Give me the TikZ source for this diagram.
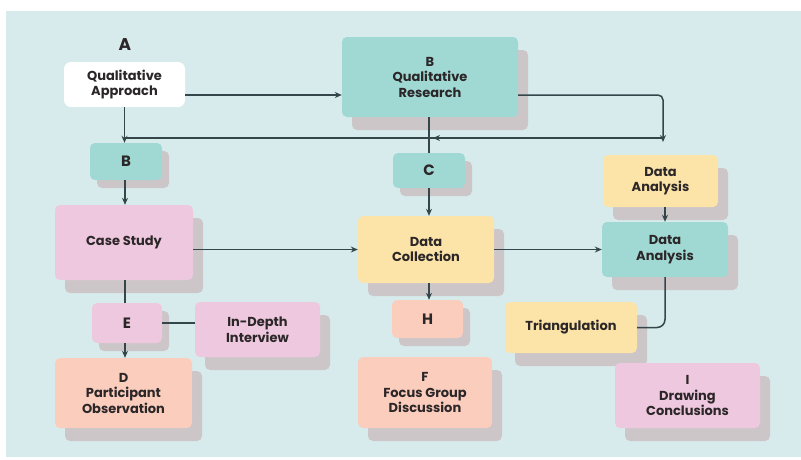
\documentclass[tikz,border=0pt]{standalone}
\usepackage{fontspec}
\setmainfont{Poppins}
\usetikzlibrary{arrows.meta,calc,shadows}
\definecolor{cBg}{HTML}{D7EBEC}
\definecolor{cTeal}{HTML}{A0D8D3}
\definecolor{cPink}{HTML}{EEC8DE}
\definecolor{cYel}{HTML}{FCE3A8}
\definecolor{cPeach}{HTML}{FACDBD}
\definecolor{cShd}{HTML}{CCC6C9}
\definecolor{cTxt}{HTML}{2B2627}
\definecolor{cLine}{HTML}{34464A}
\tikzset{
  box/.style={rectangle, rounded corners=5pt, align=center, text=cTxt,
    font=\bfseries\fontsize{13}{15.5}\selectfont, inner sep=0pt},
  bigshd/.style={general shadow={fill=cShd, shadow xshift=10pt, shadow yshift=-13pt}},
  smallshd/.style={general shadow={fill=cShd, shadow xshift=7pt, shadow yshift=-8pt}},
  letter/.style={font=\bfseries\fontsize{15}{15}\selectfont},
  ln/.style={draw=cLine, line width=1.5pt},
  arr/.style={ln, -{Stealth[length=7pt,width=6pt]}}
}
\begin{document}
\begin{tikzpicture}[x=1pt,y=-1pt]
\useasboundingbox (0,0) rectangle (801,459);
\fill[white] (0,0) rectangle (801,459);
\fill[cBg] (6,11) rectangle (801,457);

% nodes
\node[text=cTxt, font=\bfseries\fontsize{17}{17}\selectfont] (lblA) at (125,45) {A};
\node[box, fill=white, rounded corners=7pt, minimum width=121pt, minimum height=45pt] (QA) at (124.5,84.5) {Qualitative\\Approach};
\node[box, bigshd, fill=cTeal, minimum width=176pt, minimum height=80pt] (QR) at (430,77) {B\\Qualitative\\Research};
\node[box, smallshd, fill=cTeal, minimum width=72pt, minimum height=37pt, letter] (Bs) at (126,161.5) {B};
\node[box, smallshd, fill=cTeal, minimum width=72pt, minimum height=35pt, letter] (Cs) at (429,170.5) {C};
\node[box, bigshd, fill=cYel, minimum width=115pt, minimum height=52pt] (DAy) at (660.5,181) {Data\\Analysis};
\node[box, bigshd, fill=cTeal, minimum width=126pt, minimum height=55pt] (DAt) at (665,249.5) {Data\\Analysis};
\node[box, bigshd, fill=cPink, minimum width=138pt, minimum height=75pt] (CS) at (124,242.5) {Case Study};
\node[box, bigshd, fill=cYel, minimum width=136pt, minimum height=67pt] (DC) at (426,249.5) {Data\\Collection};
\node[box, smallshd, fill=cPink, minimum width=70pt, minimum height=40pt, letter] (E) at (127,323) {E};
\node[box, bigshd, fill=cPink, minimum width=125pt, minimum height=55pt] (ID) at (257.5,329.5) {In-Depth\\Interview};
\node[box, smallshd, fill=cPeach, minimum width=71pt, minimum height=38pt, letter] (H) at (427.5,319) {H};
\node[box, bigshd, fill=cYel, minimum width=132pt, minimum height=51pt] (Tri) at (571,327.5) {Triangulation};
\node[box, bigshd, fill=cPeach, minimum width=137pt, minimum height=70pt] (D) at (123.5,393) {D\\Participant\\Observation};
\node[box, bigshd, fill=cPeach, minimum width=134pt, minimum height=71pt] (F) at (425,392.5) {F\\Focus Group\\Discussion};
\node[box, bigshd, fill=cPink, minimum width=145pt, minimum height=65pt] (I) at (687.5,395.5) {I\\Drawing\\Conclusions};

% helper coordinates
\coordinate (r1) at (0,95);
\coordinate (r2) at (0,138);
\coordinate (xr) at (663,0);
\coordinate (xl) at (125,0);

% connectors
\draw[arr] (QA.east |- r1) -- (QR.west |- r1);
\draw[arr, rounded corners=5pt] (QR.east |- r1) -| ($(xr |- r2)+(0,4)$);
\draw[ln] (xl |- r2) -- (xr |- r2);
\draw[arr] (xr |- r2) -- ($(Cs.north |- r2)+(4,0)$);
\draw[ln] (QR.south -| Cs.north) -- (Cs.north);
\draw[arr] (QA.south) -- (QA.south |- Bs.north);
\draw[arr] (Bs.south -| xl) -- (xl |- CS.north);
\draw[arr] (Cs.south) -- (Cs.south |- DC.north);
\draw[arr] (CS.east |- DC.west) -- (DC.west);
\draw[arr] (DC.east) -- (DC.east -| DAt.west);
\draw[arr] (DAy.south -| DAt.north) -- (DAt.north);
\draw[ln] (CS.south -| xl) -- (xl |- E.north);
\draw[arr] (E.south -| xl) -- (xl |- D.north);
\draw[ln] (E.east) -- (E.east -| ID.west);
\draw[arr] (DC.south -| Cs.south) -- (Cs.south |- H.north);
\draw[ln, rounded corners=8pt] (DAt.south) |- (Tri.east);
\end{tikzpicture}
\end{document}
